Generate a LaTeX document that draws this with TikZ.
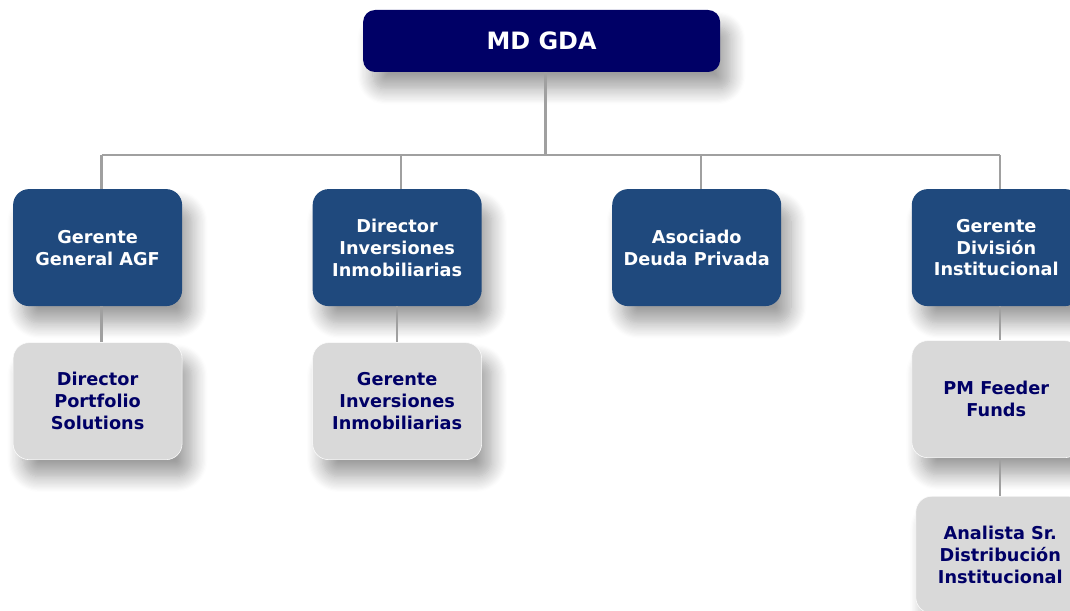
\documentclass[tikz,border=0pt]{standalone}
\usepackage{fontspec}
\setmainfont{DejaVu Sans}
\usepackage{tikz}
\usetikzlibrary{positioning, shadows.blur}
\definecolor{mnavy}{HTML}{000066}
\definecolor{mblue}{HTML}{1F497D}
\definecolor{mlight}{HTML}{D9D9D9}
\definecolor{mline}{HTML}{A0A0A0}
\tikzset{boxshadow/.style = {blur shadow={shadow xshift=7pt, shadow yshift=-12pt, shadow blur radius=11pt, shadow blur steps=14, shadow opacity=38}}}
\tikzstyle{head} = [rectangle, rounded corners=0.3cm, minimum width=8.925cm, minimum height=1.55cm, text=white, fill=mnavy, font=\fontsize{17}{21}\selectfont\bfseries, boxshadow]
\tikzstyle{chief} = [rectangle, rounded corners=0.4cm, minimum width=4.225cm, minimum height=2.925cm, text=white, fill=mblue, font=\fontsize{12.6}{15.6}\selectfont\bfseries, boxshadow]
\tikzstyle{staff} = [rectangle, rounded corners=0.4cm, minimum width=4.225cm, minimum height=2.925cm, text=mnavy, fill=mlight, draw=white!92!mlight, font=\fontsize{12.6}{15.6}\selectfont\bfseries, boxshadow]
\tikzstyle{link} = [mline, line width=1.6pt]

\begin{document}
\begin{tikzpicture}[align=center, node distance=3.25cm]
  \useasboundingbox (0,0) rectangle (26.75,-15.275);
  \node (md) [head] at (13.54,-1.025) {MD GDA};
  \coordinate (bus) at (13.6,-3.875);
  \node (agf) [chief] at (2.44,-6.19) {Gerente\\General AGF};
  \node (dii) [chief, right= of agf] {Director\\Inversiones\\Inmobiliarias};
  \node (adp) [chief, right= of dii] {Asociado\\Deuda Privada};
  \node (gdi) [chief, right= of adp] {Gerente\\División\\Institucional};
  \node (dps) [staff, below=0.9cm of agf] {Director\\Portfolio\\Solutions};
  \node (gii) [staff, below=0.9cm of dii] {Gerente\\Inversiones\\Inmobiliarias};
  \node (pmf) [staff, below=0.85cm of gdi] {PM Feeder\\Funds};
  \node (asd) [staff, below=0.95cm of pmf, xshift=0.1cm] {Analista Sr.\\Distribución\\Institucional};
  \draw [link] ([xshift=0.1cm]md.south) -- ([xshift=0.1cm]md.south |- bus);
  \draw [link] ([xshift=0.1cm]agf.north |- bus) -- ([xshift=0.1cm]gdi.north |- bus);
  \foreach \n in {agf,dii,adp,gdi}
    \draw [link] ([xshift=0.1cm]\n.north |- bus) -- ([xshift=0.1cm]\n.north);
  \draw [link] ([xshift=0.1cm]agf.south) -- ([xshift=0.1cm]dps.north);
  \draw [link] (dii) -- (gii);
  \draw [link] ([xshift=0.1cm]gdi.south) -- ([xshift=0.1cm]pmf.north);
  \draw [link] ([xshift=0.1cm]pmf.south) -- ([xshift=0.1cm]pmf.south |- asd.north);
\end{tikzpicture}
\end{document}
